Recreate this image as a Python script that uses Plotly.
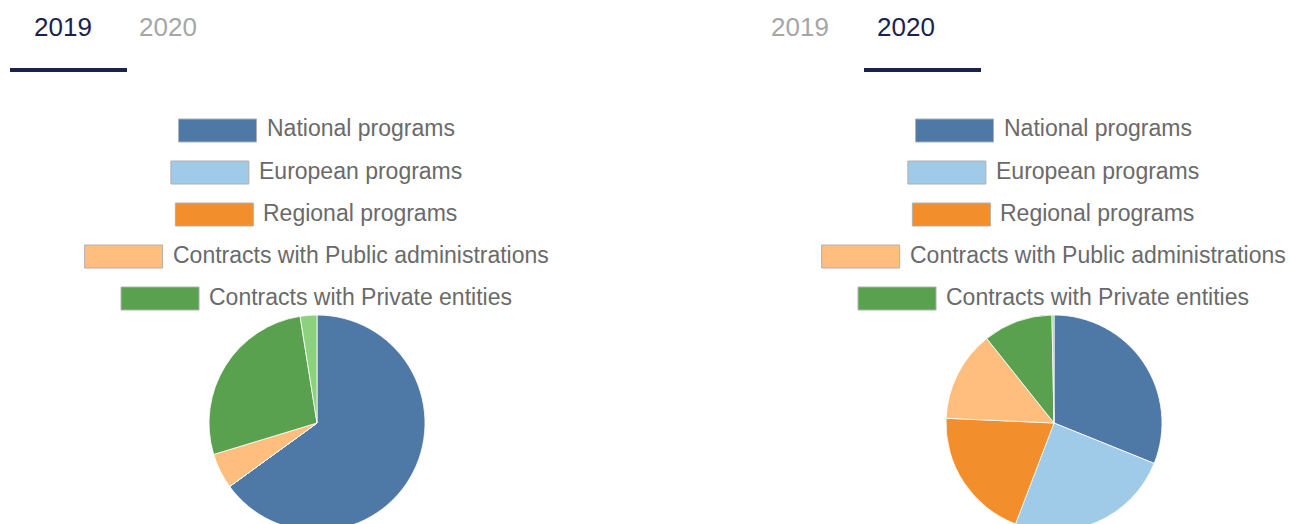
import plotly.graph_objects as go

# ---- data ----
categories = ["National programs", "European programs", "Regional programs",
              "Contracts with Public administrations", "Contracts with Private entities", "Other"]
legend_categories = categories[:5]
values_2019 = [65.0, 0.0, 0.0, 5.3, 27.2, 2.5]
values_2020 = [31.1, 24.7, 19.9, 13.6, 10.4, 0.3]
years = ["2019", "2020"]
colors = ["#4e79a7", "#a0cbe8", "#f28e2b", "#ffbe7d", "#59a14f", "#8cd17d"]

# ---- layout constants (pixels) ----
W, H = 1289, 540
NAVY = "#1c2250"
GREY_TAB = "#a6a6a6"
TEXT_GREY = "#6a6a6a"
FONT = "Liberation Sans, Arial, sans-serif"

ARIAL = {"N": 722, "a": 556, "t": 278, "i": 222, "o": 556, "n": 556, "l": 222, " ": 278,
         "p": 556, "r": 333, "g": 556, "m": 833, "s": 500, "E": 667, "u": 556, "e": 556,
         "R": 722, "C": 722, "c": 500, "w": 722, "h": 556, "P": 667, "b": 556, "d": 556,
         "v": 500}


def text_w(s, size):
    return sum(ARIAL.get(ch, 556) for ch in s) / 1000 * size


def px(x):
    return x / W


def py(y):
    return 1 - y / H


fig = go.Figure()
shapes = []
annotations = []

panels = [
    dict(cx=317, values=values_2019, active=0, tab_x=[62.5, 168], ul=(10, 127)),
    dict(cx=1054, values=values_2020, active=1, tab_x=[800, 906], ul=(864, 981)),
]

R = 108
CY = 423
LEG_SIZE = 23
BOX_W, BOX_H, GAP = 78, 23, 11

for p in panels:
    cx = p["cx"]
    fig.add_trace(go.Pie(
        labels=categories, values=p["values"], sort=False, direction="clockwise",
        rotation=0, marker=dict(colors=colors, line=dict(color="white", width=0.8)),
        textinfo="none", showlegend=False,
        domain=dict(x=[px(cx - R), px(cx + R)], y=[py(CY + R), py(CY - R)]),
    ))
    # tabs
    for i, yr in enumerate(years):
        annotations.append(dict(
            x=px(p["tab_x"][i]), y=py(27), xref="paper", yref="paper",
            text=yr, showarrow=False, xanchor="center", yanchor="middle",
            font=dict(family=FONT, size=26, color=NAVY if i == p["active"] else GREY_TAB)))
    x0, x1 = p["ul"]
    shapes.append(dict(type="rect", xref="paper", yref="paper",
                       x0=px(x0), x1=px(x1), y0=py(72), y1=py(68),
                       fillcolor=NAVY, line=dict(width=0)))
    # legend
    for k, cat in enumerate(legend_categories):
        tw = text_w(cat, LEG_SIZE)
        total = BOX_W + GAP + tw
        left = cx - total / 2
        top = 119 + 42 * k
        shapes.append(dict(type="rect", xref="paper", yref="paper",
                           x0=px(left), x1=px(left + BOX_W), y0=py(top + BOX_H), y1=py(top),
                           fillcolor=colors[k], line=dict(color="#b0b0b0", width=1)))
        annotations.append(dict(
            x=px(left + BOX_W + GAP - 3), y=py(top + BOX_H / 2 - 2), xref="paper", yref="paper",
            text=cat, showarrow=False, xanchor="left", yanchor="middle",
            font=dict(family=FONT, size=LEG_SIZE, color=TEXT_GREY)))

fig.update_layout(
    width=W, height=H, margin=dict(l=0, r=0, t=0, b=0),
    paper_bgcolor="white", plot_bgcolor="white",
    shapes=shapes, annotations=annotations, showlegend=False,
)

fig.write_html("out.html", config={"displayModeBar": False},
               post_script="document.body.style.margin='0';document.body.style.overflow='hidden';")
